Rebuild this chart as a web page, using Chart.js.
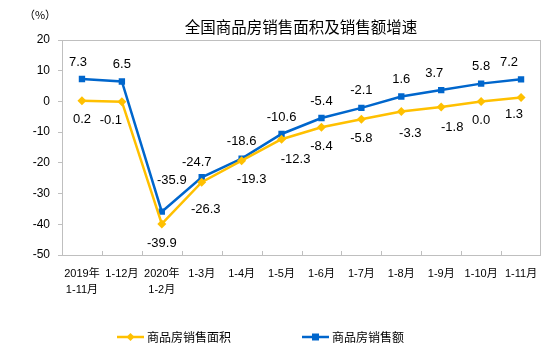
<!DOCTYPE html>
<html>
<head>
<meta charset="utf-8">
<script src="https://cdn.jsdelivr.net/npm/chart.js@4/dist/chart.umd.min.js"></script>
<style>
  html, body { margin: 0; padding: 0; background: #fff; }
  #wrap { width: 554px; height: 358px; position: relative; }
</style>
</head>
<body>
<div id="wrap"><canvas id="salesChart"></canvas></div>
<script>
// categories and series
const months = [['2019年', '1-11月'], '1-12月', ['2020年', '1-2月'], '1-3月', '1-4月', '1-5月',
                '1-6月', '1-7月', '1-8月', '1-9月', '1-10月', '1-11月'];
const areaGrowth = [0.2, -0.1, -39.9, -26.3, -19.3, -12.3, -8.4, -5.8, -3.3, -1.8, 0.0, 1.3];
const amountGrowth = [7.3, 6.5, -35.9, -24.7, -18.6, -10.6, -5.4, -2.1, 1.6, 3.7, 5.8, 7.2];
const yTicks = [-50, -40, -30, -20, -10, 0, 10, 20];

const YELLOW = '#FFC000';
const BLUE = '#0066CC';
const AXIS_GREY = '#BFBFBF';
const NUM_FONT = "'Liberation Sans', Arial, 'Noto Sans CJK SC', sans-serif";
const CJK_FONT = "'Noto Sans CJK SC', sans-serif";

// a few labels are moved aside so they don't sit on a line  ("dataset:index" -> [dx, dy])
const labelNudge = {
    '0:1': [-11, 0], '0:3': [4, 8], '0:4': [10, 0], '0:5': [14, 1],
    '0:8': [9, 3], '0:9': [11, 1], '0:11': [-7, -2],
    '1:0': [-4, 0], '1:2': [10, -14], '1:3': [-5, 2], '1:9': [-7, 0], '1:11': [-12, 0]
};

// value labels: area below its points, amount above
const labelPlugin = {
    id: 'valueLabels',
    afterDatasetsDraw(chart) {
        const ctx = chart.ctx;
        ctx.save();
        ctx.font = '13px ' + NUM_FONT;
        ctx.fillStyle = '#000';
        ctx.textAlign = 'center';
        ctx.textBaseline = 'middle';
        chart.data.datasets.forEach((ds, di) => {
            const meta = chart.getDatasetMeta(di);
            meta.data.forEach((pt, i) => {
                const v = ds.data[i];
                const n = labelNudge[di + ':' + i] || [0, 0];
                const dy = di === 0 ? 19 : -17;
                ctx.fillText(v.toFixed(1), pt.x + n[0], pt.y + dy + n[1]);
            });
        });
        ctx.restore();
    }
};

// frame, inward x ticks, title, unit and legend
const framePlugin = {
    id: 'frame',
    beforeDatasetsDraw(chart) {
        const { ctx, chartArea: a, scales: { x } } = chart;
        ctx.save();
        ctx.strokeStyle = AXIS_GREY;
        ctx.lineWidth = 1;
        ctx.strokeRect(a.left + 0.5, a.top + 0.5, a.right - a.left - 1, a.bottom - a.top);
        ctx.beginPath();
        for (let i = 0; i < months.length - 1; i++) {
            const bx = Math.round((x.getPixelForValue(i) + x.getPixelForValue(i + 1)) / 2) + 0.5;
            ctx.moveTo(bx, a.bottom);
            ctx.lineTo(bx, a.bottom - 4);
        }
        ctx.stroke();
        ctx.restore();
    },
    afterDraw(chart) {
        const ctx = chart.ctx;
        ctx.save();
        ctx.fillStyle = '#000';
        ctx.textBaseline = 'middle';
        ctx.textAlign = 'center';
        ctx.font = '15.5px ' + CJK_FONT;
        ctx.fillText('全国商品房销售面积及销售额增速', 301, 27);
        ctx.font = '11px ' + CJK_FONT;
        ctx.fillText('（%）', 40, 15);

        // legend
        const items = [
            { ds: chart.data.datasets[0], x: 117 },
            { ds: chart.data.datasets[1], x: 302 }
        ];
        const ly = 337;
        items.forEach(it => {
            ctx.strokeStyle = it.ds.borderColor;
            ctx.lineWidth = 2.5;
            ctx.beginPath();
            ctx.moveTo(it.x, ly);
            ctx.lineTo(it.x + 27, ly);
            ctx.stroke();
            ctx.fillStyle = it.ds.borderColor;
            const cx = it.x + 13.5;
            ctx.beginPath();
            if (it.ds.pointStyle === 'rectRot') {
                ctx.moveTo(cx, ly - 4); ctx.lineTo(cx + 4, ly);
                ctx.lineTo(cx, ly + 4); ctx.lineTo(cx - 4, ly);
            } else {
                ctx.rect(cx - 3.5, ly - 3.5, 7, 7);
            }
            ctx.closePath();
            ctx.fill();
            ctx.fillStyle = '#000';
            ctx.textAlign = 'left';
            ctx.font = '12px ' + CJK_FONT;
            ctx.fillText(it.ds.label, it.x + 30, ly);
        });
        ctx.restore();
    }
};

document.addEventListener('DOMContentLoaded', function() {
    const ctx = document.getElementById('salesChart').getContext('2d');

    new Chart(ctx, {
        type: 'line',
        data: {
            labels: months,
            datasets: [{
                label: '商品房销售面积',
                data: areaGrowth,
                borderColor: YELLOW,
                backgroundColor: YELLOW,
                borderWidth: 2.5,
                pointStyle: 'rectRot',
                pointRadius: 4.5,
                pointBorderWidth: 0,
                tension: 0
            }, {
                label: '商品房销售额',
                data: amountGrowth,
                borderColor: BLUE,
                backgroundColor: BLUE,
                borderWidth: 2.5,
                pointStyle: 'rect',
                pointRadius: 4.5,
                pointBorderWidth: 0,
                tension: 0
            }]
        },
        options: {
            responsive: true,
            maintainAspectRatio: false,
            animation: false,
            layout: { padding: { top: 40, right: 13, left: 0, bottom: 0 } },
            plugins: {
                legend: { display: false },
                title: { display: false },
                tooltip: { enabled: false }
            },
            scales: {
                x: {
                    offset: true,
                    grid: { display: false, drawTicks: false },
                    border: { display: false },
                    ticks: {
                        color: '#000',
                        font: { family: NUM_FONT, size: 11, lineHeight: 1.45 },
                        padding: 11,
                        maxRotation: 0,
                        autoSkip: false
                    },
                    afterFit: s => { s.height = 103; }
                },
                y: {
                    min: -50,
                    max: 20,
                    afterBuildTicks: s => { s.ticks = yTicks.map(v => ({ value: v })); },
                    grid: { drawOnChartArea: false, color: AXIS_GREY, tickLength: 4 },
                    border: { display: false },
                    ticks: {
                        color: '#000',
                        font: { family: NUM_FONT, size: 12 },
                        padding: 8
                    },
                    afterFit: s => { s.width = 62; }
                }
            }
        },
        plugins: [labelPlugin, framePlugin]
    });
});
</script>
</body>
</html>
